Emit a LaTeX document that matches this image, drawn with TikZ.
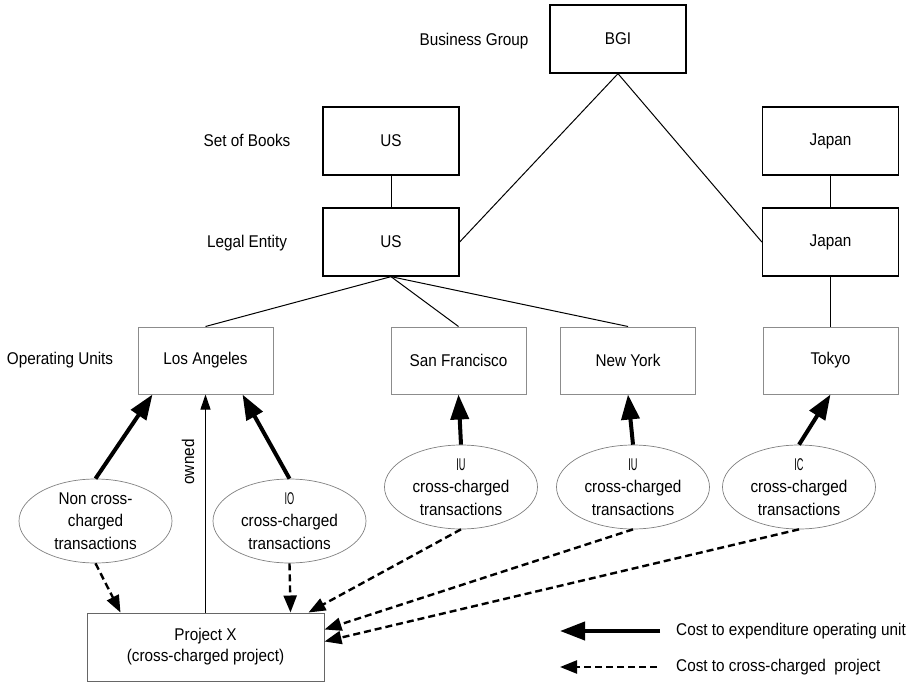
\documentclass[tikz,border=0pt]{standalone}
\usepackage{graphicx}
\usepackage{fontspec}
\setmainfont{Liberation Sans}[FakeStretch=0.9]
\usetikzlibrary{arrows.meta,shapes.geometric}

\begin{document}
\begin{tikzpicture}[x=1pt,y=-1pt,
  txt/.style={font=\fontsize{17}{22.5}\selectfont, inner sep=0pt},
  topbox/.style={draw=black, line width=1.3pt, minimum width=136pt, minimum height=68pt, txt},
  oubox/.style={draw=black!45, line width=1pt, minimum width=135pt, minimum height=67pt, txt},
  txn/.style={ellipse, draw=black!50, line width=0.7pt, minimum width=153pt, minimum height=84pt, align=center, txt},
  projbox/.style={draw=black!60, line width=1pt, minimum width=237pt, minimum height=68pt, align=center, font=\fontsize{17}{21}\selectfont, inner sep=0pt},
  link/.style={line width=1pt},
  owns/.style={line width=1pt, -{Triangle[length=15pt,width=10pt]}},
  costunit/.style={line width=4pt, -{Triangle[length=25pt,width=18pt]}},
  costproj/.style={line width=2.4pt, dash pattern=on 7pt off 4pt, -{Triangle[length=17pt,width=13pt]}}
]
\useasboundingbox (0,0) rectangle (916,682);
\newcommand\cc[1]{\scalebox{0.6}[1]{#1}}

% level labels
\node[txt] (lbg) at (474,41) {Business Group};
\node[txt] (lsob) at (247,140) {Set of Books};
\node[txt] (lle) at (247,243) {Legal Entity};
\node[txt] (lou) at (60,360) {Operating Units};

% hierarchy
\node[topbox] (bgi) at (618,39) {BGI};
\node[topbox] (sobus) at (391,141) {US};
\node[topbox] (leus) at (391,242) {US};
\node[topbox] (sobjp) at (830.5,141) {Japan};
\node[topbox] (lejp) at (830.5,242) {Japan};

\node[oubox] (la) at (205.5,360.5) {Los Angeles};
\node[oubox] (sf) at (458.5,360.5) {San Francisco};
\node[oubox] (ny) at (628,360.5) {New York};
\node[oubox] (tk) at (830.5,360.5) {Tokyo};

\draw[link] (bgi.south) -- (leus.east);
\draw[link] (bgi.south) -- (lejp.west);
\draw[link] (sobus) -- (leus);
\draw[link] (sobjp) -- (lejp);
\draw[link] (leus.south) -- (la.north);
\draw[link] (leus.south) -- (sf.north);
\draw[link] (leus.south) -- (ny.north);
\draw[link] (lejp) -- (tk);

% transactions
\node[txn] (e1) at (95.5,521) {Non cross-\\charged\\transactions};
\node[txn] (e2) at (289.5,521) {\cc{IO}\\cross-charged\\transactions};
\node[txn] (e3) at (461,487) {\cc{IU}\\cross-charged\\transactions};
\node[txn] (e4) at (633,487) {\cc{IU}\\cross-charged\\transactions};
\node[txn] (e5) at (799,487) {\cc{IC}\\cross-charged\\transactions};

\node[projbox] (px) at (205.5,647) {Project X\\(cross-charged project)};

% cost flows to operating units
\draw[costunit] (e1.north) -- ([xshift=15pt]la.south west);
\draw[costunit] (e2.north) -- ([xshift=-31pt]la.south east);
\draw[costunit] (e3.north) -- (sf.south);
\draw[costunit] (e4.north) -- (ny.south);
\draw[costunit] (e5.north) -- (tk.south);

% ownership
\draw[owns] (px.north) -- (la.south);
\node[txt, rotate=90] (own) at (188,462) {owned};

% cost flows to the project
\draw[costproj] (e1.south) -- ([xshift=34pt]px.north west);
\draw[costproj] (e2.south) -- ([xshift=-34pt]px.north east);
\draw[costproj] (e3.south) -- ([xshift=-16pt]px.north east);
\draw[costproj] (e4.south) -- ([yshift=-17pt]px.north east);
\draw[costproj] (e5.south) -- ([yshift=-29pt]px.north east);

% legend
\coordinate (k1s) at (660,631);
\coordinate (k1e) at (560,631);
\coordinate (k2s) at (657,667);
\coordinate (k2e) at (560,667);
\draw[costunit] (k1s) -- (k1e);
\draw[costproj] (k2s) -- (k2e);
\node[txt, anchor=west] (k1t) at (676,631) {Cost to expenditure operating unit};
\node[txt, anchor=west] (k2t) at (676,667) {Cost to cross-charged\ \ project};
\end{tikzpicture}
\end{document}
